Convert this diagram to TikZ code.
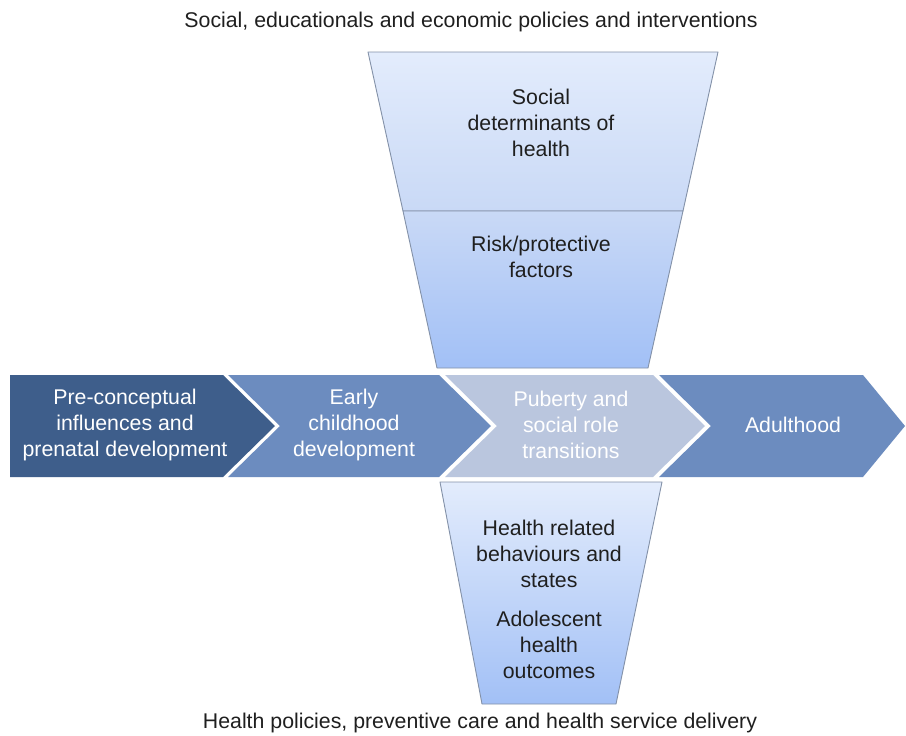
\documentclass[tikz,border=0pt]{standalone}
\usepackage{fontspec}
\setmainfont{Liberation Sans}
\begin{document}
\begin{tikzpicture}[x=1pt,y=-1pt,
  txt/.style={font=\fontsize{21.3}{25.8}\selectfont, align=center, text=black!88, inner sep=0pt},
  wtxt/.style={font=\fontsize{21.3}{25.8}\selectfont, align=center, text=white, inner sep=0pt},
  ttl/.style={font=\fontsize{21.3}{25}\selectfont, text=black!88, inner sep=0pt},
  funnel/.style={draw=funline, line width=0.9pt, line join=round}
]
\definecolor{cdark}{HTML}{3E5E8B}
\definecolor{cmid}{HTML}{6C8CBF}
\definecolor{clight}{HTML}{BAC6DE}
\definecolor{funline}{HTML}{8391A8}
\definecolor{fa}{HTML}{E3ECFC}
\definecolor{fb}{HTML}{C9D9F6}
\definecolor{fc}{HTML}{A2C0F6}
\useasboundingbox (0,0) rectangle (906,736);
\fill[white] (0,0) rectangle (906,736);

% titles
\node[ttl] (top) at (471,22) {Social, educationals and economic policies and interventions};
\node[ttl] (bot) at (480,723) {Health policies, preventive care and health service delivery};

% top funnel
\shade[funnel, top color=fa, bottom color=fb] (368,52) -- (718,52) -- (683,211) -- (403,211) -- cycle;
\shade[funnel, top color=fb, bottom color=fc] (403,211) -- (683,211) -- (648,368) -- (437,368) -- cycle;
\node[txt] (sdh) at (541,123) {Social\\determinants of\\health};
\node[txt] (rpf) at (541,257) {Risk/protective\\factors};

% bottom funnel
\shade[funnel, top color=fa, bottom color=fc] (440,482) -- (662,482) -- (616,704) -- (482,704) -- cycle;
\node[txt] (hrb) at (549,554) {Health related\\behaviours and\\states};
\node[txt] (aho) at (549,645) {Adolescent\\health\\outcomes};

% chevrons
\fill[cdark] (10,375) -- (223,375) -- (275,426) -- (223,477) -- (10,477) -- cycle;
\fill[cmid] (228,375) -- (439,375) -- (491,426) -- (439,477) -- (228,477) -- (280,426) -- cycle;
\fill[clight] (445,375) -- (653,375) -- (705,426) -- (653,477) -- (445,477) -- (497,426) -- cycle;
\fill[cmid] (659,375) -- (863,375) -- (905,426) -- (863,477) -- (659,477) -- (711,426) -- cycle;
\node[wtxt] (c1) at (125,425) {Pre-conceptual\\influences and\\prenatal development};
\node[wtxt] (c2) at (354,425) {Early\\childhood\\development};
\node[wtxt] (c3) at (571,425) {Puberty and\\social role\\transitions};
\node[wtxt] (c4) at (793,425) {Adulthood};
\end{tikzpicture}
\end{document}
